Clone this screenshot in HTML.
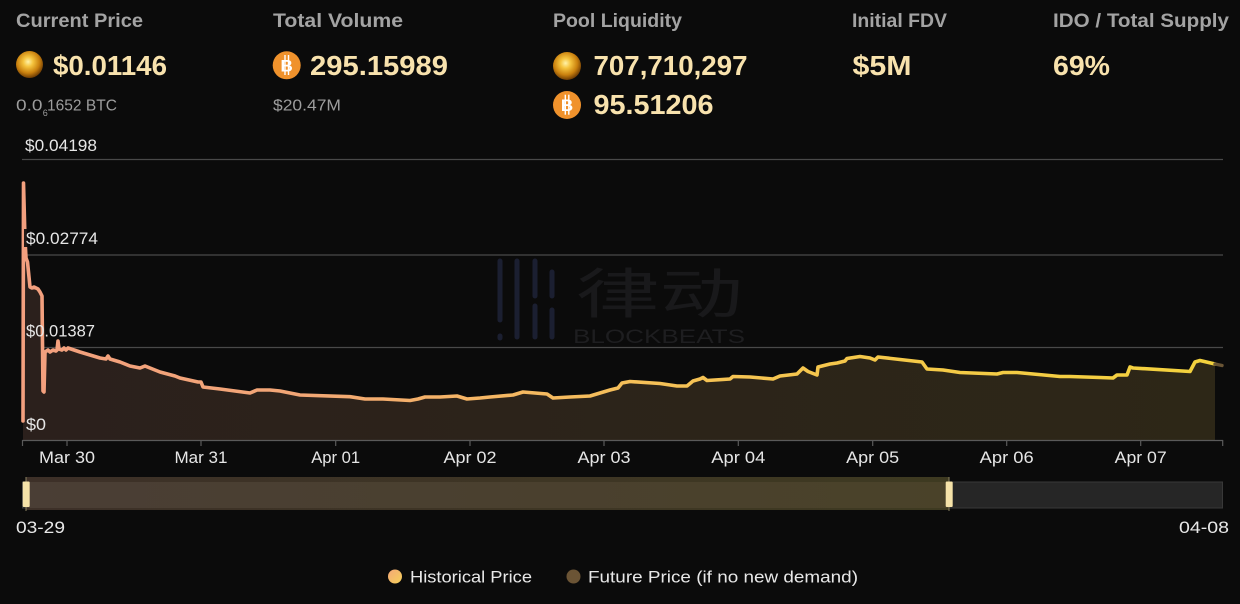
<!DOCTYPE html>
<html><head><meta charset="utf-8"><style>
html,body{margin:0;padding:0;background:#0b0b0b;}
svg{display:block;}
text{font-family:"Liberation Sans","Noto Sans CJK SC",sans-serif;}
</style></head><body>
<svg width="1240" height="604" viewBox="0 0 1240 604" xmlns="http://www.w3.org/2000/svg">
<defs>
<radialGradient id="gold" cx="45%" cy="40%" r="60%">
<stop offset="0" stop-color="#fff2a8"/>
<stop offset="0.3" stop-color="#f5c43e"/>
<stop offset="0.7" stop-color="#c9800e"/>
<stop offset="1" stop-color="#6e3c04"/>
</radialGradient>
<linearGradient id="lineG" gradientUnits="userSpaceOnUse" x1="22" y1="0" x2="1215" y2="0">
<stop offset="0" stop-color="#f3a07f"/>
<stop offset="0.23" stop-color="#f2a676"/>
<stop offset="0.377" stop-color="#f5b565"/>
<stop offset="0.52" stop-color="#f5c058"/>
<stop offset="0.71" stop-color="#f5c84a"/>
<stop offset="1" stop-color="#f3d23d"/>
</linearGradient>
<linearGradient id="fillG" gradientUnits="userSpaceOnUse" x1="22" y1="0" x2="1215" y2="0">
<stop offset="0" stop-color="#2b201c"/>
<stop offset="0.4" stop-color="#2c231a"/>
<stop offset="1" stop-color="#2d2717"/>
</linearGradient>
<linearGradient id="selG" x1="0" y1="0" x2="1" y2="0">
<stop offset="0" stop-color="#4a3e35"/>
<stop offset="1" stop-color="#4a4229"/>
</linearGradient>
<linearGradient id="selTop" x1="0" y1="0" x2="1" y2="0">
<stop offset="0" stop-color="#3d3028"/>
<stop offset="1" stop-color="#3e3a21"/>
</linearGradient>
<linearGradient id="dot1" x1="0" y1="0" x2="1" y2="1">
<stop offset="0" stop-color="#f4a878"/>
<stop offset="1" stop-color="#f5d058"/>
</linearGradient>
</defs>

<rect x="0" y="0" width="1240" height="604" fill="#0b0b0b"/>

<!-- Header labels -->
<g font-size="19" font-weight="bold" fill="#a3a3a3">
<text x="16" y="27" textLength="127" lengthAdjust="spacingAndGlyphs">Current Price</text>
<text x="273" y="27" textLength="130" lengthAdjust="spacingAndGlyphs">Total Volume</text>
<text x="553" y="27" textLength="129" lengthAdjust="spacingAndGlyphs">Pool Liquidity</text>
<text x="852" y="27" textLength="95" lengthAdjust="spacingAndGlyphs">Initial FDV</text>
<text x="1053" y="27" textLength="176" lengthAdjust="spacingAndGlyphs">IDO / Total Supply</text>
</g>

<!-- Icons -->
<circle cx="29.5" cy="64.5" r="13.5" fill="url(#gold)"/>
<circle cx="567" cy="66" r="14" fill="url(#gold)"/>
<g>
<circle cx="286.7" cy="65.3" r="14" fill="#f0922c"/>
<text x="286.7" y="71.3" font-size="17" font-weight="bold" fill="#fff" text-anchor="middle">B</text>
<line x1="285" y1="55" x2="285" y2="75" stroke="#fff" stroke-width="1.4"/>
<line x1="288.5" y1="55" x2="288.5" y2="75" stroke="#fff" stroke-width="1.4"/>
</g>
<g>
<circle cx="567" cy="105" r="14" fill="#f0922c"/>
<text x="567" y="111" font-size="17" font-weight="bold" fill="#fff" text-anchor="middle">B</text>
<line x1="565.3" y1="94.7" x2="565.3" y2="114.7" stroke="#fff" stroke-width="1.4"/>
<line x1="568.8" y1="94.7" x2="568.8" y2="114.7" stroke="#fff" stroke-width="1.4"/>
</g>

<!-- Values -->
<g font-size="28" font-weight="bold" fill="#f8e2ad">
<text x="53" y="75" textLength="114" lengthAdjust="spacingAndGlyphs">$0.01146</text>
<text x="310" y="75" textLength="138" lengthAdjust="spacingAndGlyphs">295.15989</text>
<text x="593.5" y="75" textLength="154" lengthAdjust="spacingAndGlyphs">707,710,297</text>
<text x="593.5" y="114" textLength="120" lengthAdjust="spacingAndGlyphs">95.51206</text>
<text x="852.5" y="75" textLength="59" lengthAdjust="spacingAndGlyphs">$5M</text>
<text x="1053" y="75" textLength="57" lengthAdjust="spacingAndGlyphs">69%</text>
</g>

<!-- Sub text -->
<g font-size="15.5" fill="#9d9d9d">
<text x="16" y="110.5" textLength="26.5" lengthAdjust="spacingAndGlyphs">0.0</text>
<text x="42.8" y="116" font-size="9">6</text>
<text x="47" y="110.5" textLength="70" lengthAdjust="spacingAndGlyphs">1652 BTC</text>
<text x="273" y="110.5" textLength="68" lengthAdjust="spacingAndGlyphs">$20.47M</text>
</g>

<!-- Watermark -->
<g>
<g stroke="#1b1f31" stroke-width="5" stroke-linecap="round" fill="none">
<line x1="500" y1="261" x2="500" y2="320"/>
<line x1="500" y1="336" x2="500" y2="338"/>
<line x1="517" y1="261" x2="517" y2="337"/>
<line x1="535" y1="261" x2="535" y2="296"/>
<line x1="535" y1="306" x2="535" y2="337"/>
<line x1="552" y1="272" x2="552" y2="296"/>
<line x1="552" y1="310" x2="552" y2="337"/>
</g>
<text x="576" y="313" font-size="54" fill="#19191b" font-family="'Noto Sans CJK SC',sans-serif" textLength="167" lengthAdjust="spacingAndGlyphs">律动</text>
<text x="573" y="343" font-size="19" fill="#1e1e20" textLength="172" lengthAdjust="spacingAndGlyphs">BLOCKBEATS</text>
</g>

<!-- Grid -->
<g stroke="#494949" stroke-width="1.2">
<line x1="22" y1="159.5" x2="1223" y2="159.5"/>
<line x1="22" y1="255" x2="1223" y2="255"/>
<line x1="22" y1="347.5" x2="1223" y2="347.5"/>
</g>

<!-- Fill -->
<path fill="url(#fillG)" d="M23 440 L23 421 L23.5 183 L25 240 L26 258 L27.5 262 L28.5 272 L30 287 L32 288 L34 287 L38 289 L40 292 L42 296 L43 391 L44 392 L45 352 L48 350 L50 352 L53 350 L56 351 L57 350 L58 341 L59 349 L62 350 L64 348 L66 350 L68 348 L71 349 L80 352 L90 355 L100 358 L106 359 L108 356 L110 359 L120 362 L130 366 L140 368 L145 366 L160 372 L175 376 L180 378 L198 382 L201 382 L203 387 L220 389 L250 393 L257 390 L270 390 L280 391 L300 395 L350 396.7 L365 399 L383 399 L410 400.5 L418 399 L425 397 L440 397 L457 396 L467 399 L480 398 L490 397 L513 395 L523 392 L535 393 L547 394 L553 398 L570 397 L590 396 L600 393 L610 390 L618 388 L622 383 L630 381.5 L660 383.5 L677 386 L687 386 L693 381 L700 379 L703 377.5 L707 380.5 L730 379 L733 376.5 L750 377 L773 379 L780 376 L797 374 L803 368 L808 371.5 L817 375 L818 367 L830 364 L837 363 L845 361 L847 358.5 L860 356.5 L870 358 L875 360 L878 357 L900 359.5 L922 362 L927 369 L943 370 L960 372.5 L997 374 L1003 372.5 L1017 372.5 L1060 376.5 L1070 376.5 L1100 377.5 L1113 378 L1117 375 L1127 375 L1130 367 L1133 368 L1190 371.5 L1195 362 L1200 360.5 L1215 364 L1215 440 Z"/>

<!-- Line -->
<path fill="none" stroke="url(#lineG)" stroke-width="3.6" stroke-linejoin="round" stroke-linecap="round" d="M23 421 L23.5 183 L25 240 L26 258 L27.5 262 L28.5 272 L30 287 L32 288 L34 287 L38 289 L40 292 L42 296 L43 391 L44 392 L45 352 L48 350 L50 352 L53 350 L56 351 L57 350 L58 341 L59 349 L62 350 L64 348 L66 350 L68 348 L71 349 L80 352 L90 355 L100 358 L106 359 L108 356 L110 359 L120 362 L130 366 L140 368 L145 366 L160 372 L175 376 L180 378 L198 382 L201 382 L203 387 L220 389 L250 393 L257 390 L270 390 L280 391 L300 395 L350 396.7 L365 399 L383 399 L410 400.5 L418 399 L425 397 L440 397 L457 396 L467 399 L480 398 L490 397 L513 395 L523 392 L535 393 L547 394 L553 398 L570 397 L590 396 L600 393 L610 390 L618 388 L622 383 L630 381.5 L660 383.5 L677 386 L687 386 L693 381 L700 379 L703 377.5 L707 380.5 L730 379 L733 376.5 L750 377 L773 379 L780 376 L797 374 L803 368 L808 371.5 L817 375 L818 367 L830 364 L837 363 L845 361 L847 358.5 L860 356.5 L870 358 L875 360 L878 357 L900 359.5 L922 362 L927 369 L943 370 L960 372.5 L997 374 L1003 372.5 L1017 372.5 L1060 376.5 L1070 376.5 L1100 377.5 L1113 378 L1117 375 L1127 375 L1130 367 L1133 368 L1190 371.5 L1195 362 L1200 360.5 L1215 364"/>
<path fill="none" stroke="#6a5535" stroke-width="3.4" stroke-linecap="round" d="M1215 364 L1222 365.5"/>

<!-- Y labels -->
<g font-size="16.5" fill="#e6e6e6">
<rect x="23" y="136" width="76" height="18" fill="#0b0b0b"/>
<text x="25" y="151" textLength="72" lengthAdjust="spacingAndGlyphs">$0.04198</text>
<rect x="24" y="229" width="76" height="18" fill="#0b0b0b" opacity="0.9"/>
<text x="26" y="244" textLength="72" lengthAdjust="spacingAndGlyphs">$0.02774</text>
<text x="26" y="336.7" textLength="69" lengthAdjust="spacingAndGlyphs">$0.01387</text>
<text x="26" y="430" textLength="20" lengthAdjust="spacingAndGlyphs">$0</text>
</g>

<!-- X axis -->
<line x1="22" y1="440.5" x2="1223" y2="440.5" stroke="#5a5a5a" stroke-width="1.2"/>
<g stroke="#5a5a5a" stroke-width="1.2">
<line x1="22.5" y1="440" x2="22.5" y2="446"/>
<line x1="67" y1="440" x2="67" y2="446"/>
<line x1="201" y1="440" x2="201" y2="446"/>
<line x1="335.7" y1="440" x2="335.7" y2="446"/>
<line x1="470" y1="440" x2="470" y2="446"/>
<line x1="604" y1="440" x2="604" y2="446"/>
<line x1="738.3" y1="440" x2="738.3" y2="446"/>
<line x1="872.7" y1="440" x2="872.7" y2="446"/>
<line x1="1006.7" y1="440" x2="1006.7" y2="446"/>
<line x1="1140.7" y1="440" x2="1140.7" y2="446"/>
<line x1="1222.7" y1="440" x2="1222.7" y2="446"/>
</g>
<g font-size="17" fill="#e6e6e6" text-anchor="middle">
<text x="67" y="463" textLength="56" lengthAdjust="spacingAndGlyphs">Mar 30</text>
<text x="201" y="463" textLength="53" lengthAdjust="spacingAndGlyphs">Mar 31</text>
<text x="335.7" y="463" textLength="49" lengthAdjust="spacingAndGlyphs">Apr 01</text>
<text x="470" y="463" textLength="53" lengthAdjust="spacingAndGlyphs">Apr 02</text>
<text x="604" y="463" textLength="53" lengthAdjust="spacingAndGlyphs">Apr 03</text>
<text x="738.3" y="463" textLength="54" lengthAdjust="spacingAndGlyphs">Apr 04</text>
<text x="872.7" y="463" textLength="53" lengthAdjust="spacingAndGlyphs">Apr 05</text>
<text x="1006.7" y="463" textLength="54" lengthAdjust="spacingAndGlyphs">Apr 06</text>
<text x="1140.7" y="463" textLength="52" lengthAdjust="spacingAndGlyphs">Apr 07</text>
</g>

<!-- Data zoom slider -->
<rect x="22.5" y="482" width="1200" height="26" fill="#262626" stroke="#383838" stroke-width="1"/>
<rect x="26" y="477" width="923" height="33" fill="url(#selTop)"/>
<rect x="26" y="482" width="923" height="26" fill="url(#selG)"/>
<line x1="26" y1="477" x2="26" y2="511" stroke="#8a8060" stroke-width="1"/>
<rect x="22.7" y="481.5" width="7" height="25.5" fill="#f5e2a8" rx="1"/>
<line x1="949" y1="477" x2="949" y2="511" stroke="#8a8060" stroke-width="1"/>
<rect x="945.7" y="481.5" width="7" height="25.5" fill="#f5e2a8" rx="1"/>
<text x="16" y="533" font-size="17" fill="#e8e8e8" textLength="49" lengthAdjust="spacingAndGlyphs">03-29</text>
<text x="1179" y="533" font-size="17" fill="#e8e8e8" textLength="50" lengthAdjust="spacingAndGlyphs">04-08</text>

<!-- Legend -->
<circle cx="395" cy="576.5" r="7" fill="url(#dot1)"/>
<text x="410" y="582.5" font-size="17" fill="#e8e8e8" textLength="122" lengthAdjust="spacingAndGlyphs">Historical Price</text>
<circle cx="573.5" cy="576.5" r="7" fill="#6b5435"/>
<text x="588" y="582.5" font-size="17" fill="#e8e8e8" textLength="270" lengthAdjust="spacingAndGlyphs">Future Price (if no new demand)</text>
</svg>
</body></html>
